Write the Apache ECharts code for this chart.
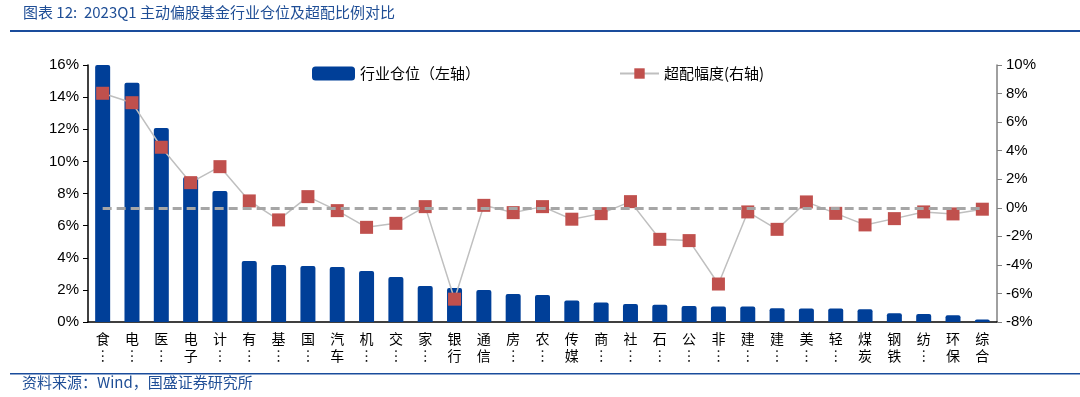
<!DOCTYPE html>
<html><head><meta charset="utf-8">
<script src="https://cdn.jsdelivr.net/npm/echarts@6/dist/echarts.min.js"></script>
<style>html,body{margin:0;padding:0;background:#fff;}#c{width:1080px;height:397px;}</style>
</head><body><div id="c"></div>
<script>
const categories = ['食\n︙','电\n︙','医\n︙','电\n子','计\n︙','有\n︙','基\n︙','国\n︙','汽\n车','机\n︙','交\n︙','家\n︙','银\n行','通\n信','房\n︙','农\n︙','传\n媒','商\n︙','社\n︙','石\n︙','公\n︙','非\n︙','建\n︙','建\n︙','美\n︙','轻\n︙','煤\n炭','钢\n铁','纺\n︙','环\n保','综\n合'];
const positionPct = [16.0,14.9,12.08,9.03,8.16,3.8,3.55,3.49,3.42,3.18,2.8,2.24,2.12,1.99,1.74,1.68,1.34,1.22,1.12,1.08,0.99,0.96,0.96,0.86,0.84,0.84,0.8,0.55,0.5,0.42,0.15];
const overweightPct = [8.02,7.36,4.24,1.76,2.88,0.48,-0.85,0.78,-0.2,-1.37,-1.09,0.08,-6.4,0.17,-0.34,0.08,-0.8,-0.41,0.43,-2.21,-2.3,-5.34,-0.29,-1.51,0.41,-0.39,-1.2,-0.76,-0.29,-0.43,-0.1];
const leftTicks = {min:0,max:16,interval:2};
const rightTicks = {min:-8,max:10,interval:2};

const chart = echarts.init(document.getElementById('c'));
const blue = '#003f98';
chart.setOption({
  animation:false,
  graphic:[
    {type:'text',left:23,top:5,style:{text:'图表 12:  2023Q1 主动偏股基金行业仓位及超配比例对比',fill:'#1f4e96',font:'15px "Noto Sans CJK SC"'}},
    {type:'rect',shape:{x:10,y:30,width:1070,height:2},style:{fill:'#1a4c9c'}},
    {type:'rect',shape:{x:10,y:373,width:1070,height:1.5},style:{fill:'#1a4c9c'}},
    {type:'text',left:22,top:375,style:{text:'资料来源：Wind，国盛证券研究所',fill:'#1f4e96',font:'15px "Noto Sans CJK SC"'}}
  ],
  legend:[
    {data:['行业仓位（左轴）'],left:307,top:61,itemWidth:43,itemHeight:14,itemGap:4,
     textStyle:{fontSize:15,color:'#000',fontFamily:'"Noto Sans CJK SC"'}},
    {data:['超配幅度(右轴)'],left:614,top:61,itemWidth:39,itemHeight:13,
     textStyle:{fontSize:15,color:'#000',fontFamily:'"Noto Sans CJK SC"'}}
  ],
  grid:{left:88,right:83,top:65,bottom:75,containLabel:false},
  xAxis:{type:'category',data:categories,
    axisLine:{lineStyle:{color:'#000',width:1.5}},
    axisTick:{inside:true,length:5,lineStyle:{color:'#000'}},
    axisLabel:{interval:0,fontSize:14,lineHeight:17,color:'#000',margin:8,fontFamily:'"Noto Sans CJK SC"'}},
  yAxis:[
    {type:'value',min:leftTicks.min,max:leftTicks.max,interval:leftTicks.interval,
     axisLine:{show:true,lineStyle:{color:'#000',width:1.5}},
     axisTick:{show:true,length:5,lineStyle:{color:'#000'}},
     splitLine:{show:false},
     axisLabel:{formatter:'{value}%',fontSize:15,color:'#000',margin:9,fontFamily:'"Liberation Sans"'}},
    {type:'value',min:rightTicks.min,max:rightTicks.max,interval:rightTicks.interval,position:'right',
     axisLine:{show:true,lineStyle:{color:'#808080',width:1.5}},
     axisTick:{show:true,length:5,lineStyle:{color:'#808080'}},
     splitLine:{show:false},
     axisLabel:{formatter:'{value}%',fontSize:15,color:'#000',margin:9,fontFamily:'"Liberation Sans"'}}
  ],
  series:[
    {name:'行业仓位（左轴）',type:'bar',data:positionPct,yAxisIndex:0,barWidth:15,
     itemStyle:{color:blue,borderRadius:[2,2,0,0]}},
    {name:'超配幅度(右轴)',type:'line',data:overweightPct,yAxisIndex:1,
     symbol:'rect',symbolSize:13,
     lineStyle:{color:'#bfbfbf',width:1.5},
     itemStyle:{color:'#c0504d'},
     markLine:{silent:true,symbol:'none',label:{show:false},
       lineStyle:{color:'#a6a6a6',type:[9,5],width:3},
       data:[[{coord:[0,0]},{coord:[30,0]}]]},
     z:3}
  ]
});
</script></body></html>
